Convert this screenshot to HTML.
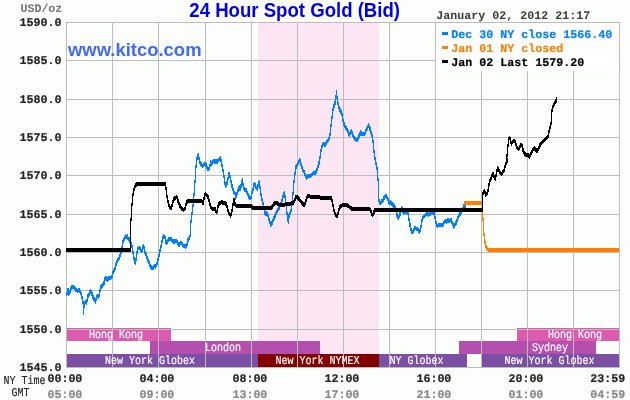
<!DOCTYPE html><html><head><meta charset="utf-8"><title>24 Hour Spot Gold (Bid)</title><style>
html,body{margin:0;padding:0;background:#fcfefc}
#c{position:relative;width:630px;height:400px;overflow:hidden;background:#fcfefc;font-family:"Liberation Mono","DejaVu Sans Mono",monospace}
.t{position:absolute;white-space:pre;line-height:1;transform-origin:0 0}
.m{font-size:11.665px;font-weight:bold;color:#222;text-rendering:geometricPrecision;-webkit-text-stroke:0.2px}
.r{font-size:11.665px;font-weight:bold;text-rendering:geometricPrecision}
.s{font-size:10px;transform:scaleY(1.2);text-rendering:geometricPrecision;-webkit-text-stroke:0.15px}
.a{font-family:"Liberation Sans",sans-serif;font-weight:bold}
.k{position:absolute;width:6px;height:3px;left:442px}
</style></head><body><div id="c">
<svg width="630" height="400" viewBox="0 0 630 400" style="position:absolute;left:0;top:0">
<rect x="258" y="22" width="121" height="345" fill="#fce6f4"/>
<rect x="67" y="328" width="104" height="13" fill="#dd5bae"/>
<rect x="517" y="328" width="102" height="13" fill="#dd5bae"/>
<rect x="150" y="341" width="170" height="13" fill="#b44fae"/>
<rect x="459" y="341" width="137" height="13" fill="#b44fae"/>
<rect x="67" y="354" width="191" height="13" fill="#7b4fa3"/>
<rect x="258" y="354" width="121" height="13" fill="#840000"/>
<rect x="379" y="354" width="88" height="13" fill="#7b4fa3"/>
<rect x="481" y="354" width="138" height="13" fill="#7b4fa3"/>
<rect x="66" y="22" width="1" height="346" fill="#bcbcbc"/>
<rect x="112" y="22" width="1" height="346" fill="#bcbcbc"/>
<rect x="158" y="22" width="1" height="346" fill="#bcbcbc"/>
<rect x="205" y="22" width="1" height="346" fill="#bcbcbc"/>
<rect x="251" y="22" width="1" height="346" fill="#bcbcbc"/>
<rect x="297" y="22" width="1" height="346" fill="#bcbcbc"/>
<rect x="343" y="22" width="1" height="346" fill="#bcbcbc"/>
<rect x="389" y="22" width="1" height="346" fill="#bcbcbc"/>
<rect x="435" y="22" width="1" height="346" fill="#bcbcbc"/>
<rect x="481" y="22" width="1" height="346" fill="#bcbcbc"/>
<rect x="527" y="22" width="1" height="346" fill="#bcbcbc"/>
<rect x="573" y="22" width="1" height="346" fill="#bcbcbc"/>
<rect x="619" y="22" width="1" height="346" fill="#bcbcbc"/>
<rect x="66" y="22" width="554" height="1" fill="#bcbcbc"/>
<rect x="66" y="60" width="554" height="1" fill="#bcbcbc"/>
<rect x="66" y="99" width="554" height="1" fill="#bcbcbc"/>
<rect x="66" y="137" width="554" height="1" fill="#bcbcbc"/>
<rect x="66" y="175" width="554" height="1" fill="#bcbcbc"/>
<rect x="66" y="214" width="554" height="1" fill="#bcbcbc"/>
<rect x="66" y="252" width="554" height="1" fill="#bcbcbc"/>
<rect x="66" y="290" width="554" height="1" fill="#bcbcbc"/>
<rect x="66" y="329" width="554" height="1" fill="#bcbcbc"/>
<rect x="66" y="367" width="554" height="1" fill="#bcbcbc"/>
<rect x="436" y="23" width="183" height="48" fill="#ffffff"/>
<path d="M66.6,293.3 L67.4,290.8 L68.0,288.4 L68.6,292.1 L69.5,291.7 L70.8,287.4 L72.1,285.5 L73.3,285.6 L74.6,286.1 L75.9,288.3 L77.1,289.3 L78.4,288.6 L79.3,288.7 L80.3,290.4 L81.3,293.1 L82.2,296.9 L83.1,301.6 L83.6,306.7 L83.7,311.5 L84.1,303.7 L85.1,300.7 L86.4,301.4 L87.3,297.8 L88.2,293.7 L89.2,292.6 L90.5,289.3 L91.7,291.7 L93.0,295.5 L94.3,298.1 L95.6,300.1 L96.6,295.6 L97.5,294.4 L98.7,295.1 L99.6,290.8 L100.6,286.1 L101.9,284.7 L103.2,282.9 L104.2,281.1 L105.1,277.1 L106.3,276.2 L107.6,278.7 L108.9,276.4 L110.2,276.1 L111.4,275.9 L112.3,274.7 L113.1,270.5 L113.6,269.1 L114.4,268.5 L115.3,266.3 L116.6,260.7 L117.6,258.8 L118.3,257.6 L119.1,256.8 L120.4,252.9 L121.7,248.9 L122.7,240.4 L124.0,237.9 L124.8,237.3 L125.5,234.3 L126.3,235.8 L127.1,234.7 L128.0,237.0 L128.8,237.1 L129.6,238.7 L130.3,240.9 L131.6,242.9 L132.6,248.3 L133.5,254.0 L134.4,259.1 L135.4,261.4 L136.3,256.5 L137.0,250.8 L137.9,247.0 L139.2,246.0 L140.5,247.9 L141.7,249.8 L142.8,246.0 L143.7,244.2 L144.5,249.3 L145.6,252.1 L146.8,255.6 L148.1,259.1 L149.4,262.2 L150.6,265.7 L151.4,265.7 L152.2,266.7 L153.0,266.8 L153.8,265.1 L154.7,264.5 L155.5,265.3 L156.7,262.9 L158.0,257.9 L159.3,252.7 L160.4,247.2 L161.4,243.2 L162.4,238.7 L163.3,234.7 L164.3,235.2 L165.2,236.6 L166.1,241.7 L167.1,240.4 L168.4,238.1 L169.2,237.4 L169.9,237.7 L171.2,237.5 L172.5,239.8 L173.3,239.7 L174.1,240.4 L175.4,239.4 L176.7,239.1 L177.9,241.6 L179.2,243.8 L180.5,241.3 L181.7,241.5 L183.0,244.1 L184.3,244.8 L185.1,244.2 L185.9,245.4 L187.2,242.8 L188.1,238.1 L189.0,237.1 L190.0,234.7 L190.5,223.9 L191.7,214.1 L192.8,206.5 L193.7,197.3 L194.5,186.2 L195.2,177.4 L195.9,166.4 L196.5,157.8 L197.5,155.6 L198.4,153.7 L199.0,157.1 L200.1,161.7 L201.3,162.9 L202.1,164.4 L202.9,164.2 L204.1,162.7 L205.1,161.9 L206.4,164.1 L207.7,167.9 L208.7,167.9 L209.8,164.5 L210.7,160.6 L211.7,162.5 L212.8,160.4 L213.8,159.0 L214.9,160.6 L215.9,159.4 L217.1,161.0 L218.1,158.7 L219.4,157.7 L220.4,156.2 L221.3,160.4 L222.2,164.5 L223.2,169.8 L224.1,175.2 L224.7,180.3 L225.7,184.4 L227.0,181.6 L228.0,177.4 L228.9,172.3 L229.8,174.3 L230.8,179.3 L231.8,183.7 L232.7,186.9 L234.0,190.7 L235.2,192.0 L235.7,196.1 L237.0,192.5 L238.3,187.9 L239.1,185.7 L240.2,188.1 L241.2,183.7 L242.3,178.9 L243.3,184.5 L244.6,188.7 L245.9,187.9 L247.1,191.3 L248.4,194.3 L249.7,196.8 L250.7,197.0 L251.8,192.1 L252.9,188.4 L253.9,183.4 L254.8,182.8 L256.0,185.8 L257.3,187.1 L258.2,183.3 L259.2,180.2 L260.2,187.5 L261.5,196.0 L262.8,200.6 L263.7,205.2 L264.5,210.3 L265.6,212.9 L266.8,211.6 L268.1,214.5 L269.4,219.2 L270.6,223.3 L271.9,221.8 L273.2,218.3 L274.4,215.6 L275.7,213.2 L277.0,209.9 L278.3,207.8 L279.5,205.5 L280.8,202.4 L282.1,198.9 L283.3,194.3 L284.3,191.0 L285.2,195.5 L285.9,201.8 L286.8,210.7 L287.5,216.3 L288.2,220.3 L289.0,214.5 L290.3,211.6 L291.6,206.9 L292.6,198.0 L293.5,185.3 L294.1,179.4 L294.8,173.9 L295.3,170.4 L296.1,164.9 L297.4,163.7 L298.6,160.9 L299.9,158.3 L300.8,161.9 L301.7,165.3 L302.7,168.5 L304.0,170.1 L305.2,173.3 L306.5,176.1 L307.8,174.8 L308.6,174.5 L309.3,174.2 L310.1,174.5 L311.0,173.9 L311.8,173.4 L312.6,172.0 L313.9,171.9 L315.1,171.7 L316.4,170.0 L317.7,166.6 L318.7,162.8 L319.6,159.2 L320.5,151.6 L321.2,147.9 L322.4,143.5 L323.7,142.1 L324.9,144.1 L326.2,141.8 L327.5,139.5 L328.5,138.3 L329.6,135.3 L330.4,130.8 L330.9,128.9 L330.6,126.7 L331.6,120.0 L332.5,110.5 L333.2,107.3 L334.4,103.2 L335.4,100.5 L336.0,95.6 L336.5,90.6 L337.0,96.2 L337.7,100.8 L338.6,105.5 L339.8,108.0 L341.1,110.7 L342.1,113.3 L343.0,119.3 L344.0,122.5 L345.3,125.9 L346.1,126.2 L346.8,127.5 L348.1,130.5 L349.4,133.3 L350.4,130.7 L351.4,129.4 L352.5,132.3 L353.2,134.8 L354.0,135.8 L354.8,137.7 L355.6,137.2 L356.3,138.4 L357.3,138.7 L358.6,135.5 L359.8,132.9 L360.8,130.7 L362.1,132.7 L363.3,132.8 L364.6,133.0 L365.9,129.2 L367.1,126.9 L368.4,123.9 L369.4,126.0 L370.4,128.3 L371.3,132.0 L371.7,132.6 L373.1,140.3 L374.2,152.2 L375.4,159.4 L376.7,164.8 L377.7,173.1 L378.5,186.2 L378.6,196.5 L379.5,201.0 L380.8,201.6 L382.1,199.3 L382.9,199.0 L383.7,196.8 L384.4,196.7 L385.2,193.9 L386.5,195.1 L387.5,196.5 L388.8,200.6 L389.6,201.8 L390.3,200.7 L391.1,201.8 L391.8,202.1 L392.6,203.0 L393.5,204.4 L394.8,205.0 L396.0,208.6 L397.3,214.8 L398.6,216.4 L399.8,213.3 L400.9,209.5 L401.5,206.5 L402.4,207.9 L403.7,211.6 L404.6,210.4 L405.6,210.7 L406.6,210.4 L407.5,209.8 L408.5,214.7 L409.4,220.6 L410.4,225.3 L411.5,230.0 L412.5,230.6 L413.4,228.9 L414.4,227.0 L415.2,226.4 L416.0,227.2 L417.2,227.2 L418.5,228.7 L419.5,230.8 L420.5,227.6 L421.4,222.4 L422.3,217.4 L423.3,215.5 L424.6,214.8 L425.9,212.9 L426.9,211.3 L427.8,212.8 L428.8,213.4 L429.7,212.2 L430.6,212.3 L431.6,211.6 L432.6,211.3 L433.5,210.5 L434.6,213.9 L435.5,218.6 L436.5,223.4 L437.8,224.5 L438.8,223.3 L439.7,223.8 L440.6,223.6 L441.6,223.8 L442.6,223.4 L443.5,222.2 L444.4,220.7 L445.4,219.3 L446.4,220.5 L447.3,219.0 L448.2,218.8 L449.2,219.6 L450.1,218.9 L451.1,218.7 L452.4,221.5 L453.7,225.1 L454.9,223.0 L456.2,221.3 L457.5,217.3 L458.7,214.9 L460.0,212.4 L461.3,210.5 L462.5,208.2 L463.8,204.6 L465.1,204.4 L466.3,202.6" fill="none" stroke="#0080ff" stroke-width="1" stroke-linejoin="round" shape-rendering="crispEdges"/>
<path d="M66.6,294.3 L67.4,291.8 L68.0,289.4 L68.6,293.1 L69.5,292.7 L70.8,288.4 L72.1,286.5 L73.3,286.6 L74.6,287.1 L75.9,289.3 L77.1,290.3 L78.4,289.6 L79.3,289.7 L80.3,291.4 L81.3,294.1 L82.2,297.9 L83.1,302.6 L83.6,307.7 L83.7,312.5 L84.1,304.7 L85.1,301.7 L86.4,302.4 L87.3,298.8 L88.2,294.7 L89.2,293.6 L90.5,290.3 L91.7,292.7 L93.0,296.5 L94.3,299.1 L95.6,301.1 L96.6,296.6 L97.5,295.4 L98.7,296.1 L99.6,291.8 L100.6,287.1 L101.9,285.7 L103.2,283.9 L104.2,282.1 L105.1,278.1 L106.3,277.2 L107.6,279.7 L108.9,277.4 L110.2,277.1 L111.4,276.9 L112.3,275.7 L113.1,271.5 L113.6,270.1 L114.4,269.5 L115.3,267.3 L116.6,261.7 L117.6,259.8 L118.3,258.6 L119.1,257.8 L120.4,253.9 L121.7,249.9 L122.7,241.4 L124.0,238.9 L124.8,238.3 L125.5,235.3 L126.3,236.8 L127.1,235.7 L128.0,238.0 L128.8,238.1 L129.6,239.7 L130.3,241.9 L131.6,243.9 L132.6,249.3 L133.5,255.0 L134.4,260.1 L135.4,262.4 L136.3,257.5 L137.0,251.8 L137.9,248.0 L139.2,247.0 L140.5,248.9 L141.7,250.8 L142.8,247.0 L143.7,245.2 L144.5,250.3 L145.6,253.1 L146.8,256.6 L148.1,260.1 L149.4,263.2 L150.6,266.7 L151.4,266.7 L152.2,267.7 L153.0,267.8 L153.8,266.1 L154.7,265.5 L155.5,266.3 L156.7,263.9 L158.0,258.9 L159.3,253.7 L160.4,248.2 L161.4,244.2 L162.4,239.7 L163.3,235.7 L164.3,236.2 L165.2,237.6 L166.1,242.7 L167.1,241.4 L168.4,239.1 L169.2,238.4 L169.9,238.7 L171.2,238.5 L172.5,240.8 L173.3,240.7 L174.1,241.4 L175.4,240.4 L176.7,240.1 L177.9,242.6 L179.2,244.8 L180.5,242.3 L181.7,242.5 L183.0,245.1 L184.3,245.8 L185.1,245.2 L185.9,246.4 L187.2,243.8 L188.1,239.1 L189.0,238.1 L190.0,235.7 L190.5,224.9 L191.7,215.1 L192.8,207.5 L193.7,198.3 L194.5,187.2 L195.2,178.4 L195.9,167.4 L196.5,158.8 L197.5,156.6 L198.4,154.7 L199.0,158.1 L200.1,162.7 L201.3,163.9 L202.1,165.4 L202.9,165.2 L204.1,163.7 L205.1,162.9 L206.4,165.1 L207.7,168.9 L208.7,168.9 L209.8,165.5 L210.7,161.6 L211.7,163.5 L212.8,161.4 L213.8,160.0 L214.9,161.6 L215.9,160.4 L217.1,162.0 L218.1,159.7 L219.4,158.7 L220.4,157.2 L221.3,161.4 L222.2,165.5 L223.2,170.8 L224.1,176.2 L224.7,181.3 L225.7,185.4 L227.0,182.6 L228.0,178.4 L228.9,173.3 L229.8,175.3 L230.8,180.3 L231.8,184.7 L232.7,187.9 L234.0,191.7 L235.2,193.0 L235.7,197.1 L237.0,193.5 L238.3,188.9 L239.1,186.7 L240.2,189.1 L241.2,184.7 L242.3,179.9 L243.3,185.5 L244.6,189.7 L245.9,188.9 L247.1,192.3 L248.4,195.3 L249.7,197.8 L250.7,198.0 L251.8,193.1 L252.9,189.4 L253.9,184.4 L254.8,183.8 L256.0,186.8 L257.3,188.1 L258.2,184.3 L259.2,181.2 L260.2,188.5 L261.5,197.0 L262.8,201.6 L263.7,206.2 L264.5,211.3 L265.6,213.9 L266.8,212.6 L268.1,215.5 L269.4,220.2 L270.6,224.3 L271.9,222.8 L273.2,219.3 L274.4,216.6 L275.7,214.2 L277.0,210.9 L278.3,208.8 L279.5,206.5 L280.8,203.4 L282.1,199.9 L283.3,195.3 L284.3,192.0 L285.2,196.5 L285.9,202.8 L286.8,211.7 L287.5,217.3 L288.2,221.3 L289.0,215.5 L290.3,212.6 L291.6,207.9 L292.6,199.0 L293.5,186.3 L294.1,180.4 L294.8,174.9 L295.3,171.4 L296.1,165.9 L297.4,164.7 L298.6,161.9 L299.9,159.3 L300.8,162.9 L301.7,166.3 L302.7,169.5 L304.0,171.1 L305.2,174.3 L306.5,177.1 L307.8,175.8 L308.6,175.5 L309.3,175.2 L310.1,175.5 L311.0,174.9 L311.8,174.4 L312.6,173.0 L313.9,172.9 L315.1,172.7 L316.4,171.0 L317.7,167.6 L318.7,163.8 L319.6,160.2 L320.5,152.6 L321.2,148.9 L322.4,144.5 L323.7,143.1 L324.9,145.1 L326.2,142.8 L327.5,140.5 L328.5,139.3 L329.6,136.3 L330.4,131.8 L330.9,129.9 L330.6,127.7 L331.6,121.0 L332.5,111.5 L333.2,108.3 L334.4,104.2 L335.4,101.5 L336.0,96.6 L336.5,91.6 L337.0,97.2 L337.7,101.8 L338.6,106.5 L339.8,109.0 L341.1,111.7 L342.1,114.3 L343.0,120.3 L344.0,123.5 L345.3,126.9 L346.1,127.2 L346.8,128.5 L348.1,131.5 L349.4,134.3 L350.4,131.7 L351.4,130.4 L352.5,133.3 L353.2,135.8 L354.0,136.8 L354.8,138.7 L355.6,138.2 L356.3,139.4 L357.3,139.7 L358.6,136.5 L359.8,133.9 L360.8,131.7 L362.1,133.7 L363.3,133.8 L364.6,134.0 L365.9,130.2 L367.1,127.9 L368.4,124.9 L369.4,127.0 L370.4,129.3 L371.3,133.0 L371.7,133.6 L373.1,141.3 L374.2,153.2 L375.4,160.4 L376.7,165.8 L377.7,174.1 L378.5,187.2 L378.6,197.5 L379.5,202.0 L380.8,202.6 L382.1,200.3 L382.9,200.0 L383.7,197.8 L384.4,197.7 L385.2,194.9 L386.5,196.1 L387.5,197.5 L388.8,201.6 L389.6,202.8 L390.3,201.7 L391.1,202.8 L391.8,203.1 L392.6,204.0 L393.5,205.4 L394.8,206.0 L396.0,209.6 L397.3,215.8 L398.6,217.4 L399.8,214.3 L400.9,210.5 L401.5,207.5 L402.4,208.9 L403.7,212.6 L404.6,211.4 L405.6,211.7 L406.6,211.4 L407.5,210.8 L408.5,215.7 L409.4,221.6 L410.4,226.3 L411.5,231.0 L412.5,231.6 L413.4,229.9 L414.4,228.0 L415.2,227.4 L416.0,228.2 L417.2,228.2 L418.5,229.7 L419.5,231.8 L420.5,228.6 L421.4,223.4 L422.3,218.4 L423.3,216.5 L424.6,215.8 L425.9,213.9 L426.9,212.3 L427.8,213.8 L428.8,214.4 L429.7,213.2 L430.6,213.3 L431.6,212.6 L432.6,212.3 L433.5,211.5 L434.6,214.9 L435.5,219.6 L436.5,224.4 L437.8,225.5 L438.8,224.3 L439.7,224.8 L440.6,224.6 L441.6,224.8 L442.6,224.4 L443.5,223.2 L444.4,221.7 L445.4,220.3 L446.4,221.5 L447.3,220.0 L448.2,219.8 L449.2,220.6 L450.1,219.9 L451.1,219.7 L452.4,222.5 L453.7,226.1 L454.9,224.0 L456.2,222.3 L457.5,218.3 L458.7,215.9 L460.0,213.4 L461.3,211.5 L462.5,209.2 L463.8,205.6 L465.1,205.4 L466.3,203.6" fill="none" stroke="#0080ff" stroke-width="1" stroke-linejoin="round" shape-rendering="crispEdges"/>
<path d="M66.6,295.3 L67.4,292.8 L68.0,290.4 L68.6,294.1 L69.5,293.7 L70.8,289.4 L72.1,287.5 L73.3,287.6 L74.6,288.1 L75.9,290.3 L77.1,291.3 L78.4,290.6 L79.3,290.7 L80.3,292.4 L81.3,295.1 L82.2,298.9 L83.1,303.6 L83.6,308.7 L83.7,313.5 L84.1,305.7 L85.1,302.7 L86.4,303.4 L87.3,299.8 L88.2,295.7 L89.2,294.6 L90.5,291.3 L91.7,293.7 L93.0,297.5 L94.3,300.1 L95.6,302.1 L96.6,297.6 L97.5,296.4 L98.7,297.1 L99.6,292.8 L100.6,288.1 L101.9,286.7 L103.2,284.9 L104.2,283.1 L105.1,279.1 L106.3,278.2 L107.6,280.7 L108.9,278.4 L110.2,278.1 L111.4,277.9 L112.3,276.7 L113.1,272.5 L113.6,271.1 L114.4,270.5 L115.3,268.3 L116.6,262.7 L117.6,260.8 L118.3,259.6 L119.1,258.8 L120.4,254.9 L121.7,250.9 L122.7,242.4 L124.0,239.9 L124.8,239.3 L125.5,236.3 L126.3,237.8 L127.1,236.7 L128.0,239.0 L128.8,239.1 L129.6,240.7 L130.3,242.9 L131.6,244.9 L132.6,250.3 L133.5,256.0 L134.4,261.1 L135.4,263.4 L136.3,258.5 L137.0,252.8 L137.9,249.0 L139.2,248.0 L140.5,249.9 L141.7,251.8 L142.8,248.0 L143.7,246.2 L144.5,251.3 L145.6,254.1 L146.8,257.6 L148.1,261.1 L149.4,264.2 L150.6,267.7 L151.4,267.7 L152.2,268.7 L153.0,268.8 L153.8,267.1 L154.7,266.5 L155.5,267.3 L156.7,264.9 L158.0,259.9 L159.3,254.7 L160.4,249.2 L161.4,245.2 L162.4,240.7 L163.3,236.7 L164.3,237.2 L165.2,238.6 L166.1,243.7 L167.1,242.4 L168.4,240.1 L169.2,239.4 L169.9,239.7 L171.2,239.5 L172.5,241.8 L173.3,241.7 L174.1,242.4 L175.4,241.4 L176.7,241.1 L177.9,243.6 L179.2,245.8 L180.5,243.3 L181.7,243.5 L183.0,246.1 L184.3,246.8 L185.1,246.2 L185.9,247.4 L187.2,244.8 L188.1,240.1 L189.0,239.1 L190.0,236.7 L190.5,225.9 L191.7,216.1 L192.8,208.5 L193.7,199.3 L194.5,188.2 L195.2,179.4 L195.9,168.4 L196.5,159.8 L197.5,157.6 L198.4,155.7 L199.0,159.1 L200.1,163.7 L201.3,164.9 L202.1,166.4 L202.9,166.2 L204.1,164.7 L205.1,163.9 L206.4,166.1 L207.7,169.9 L208.7,169.9 L209.8,166.5 L210.7,162.6 L211.7,164.5 L212.8,162.4 L213.8,161.0 L214.9,162.6 L215.9,161.4 L217.1,163.0 L218.1,160.7 L219.4,159.7 L220.4,158.2 L221.3,162.4 L222.2,166.5 L223.2,171.8 L224.1,177.2 L224.7,182.3 L225.7,186.4 L227.0,183.6 L228.0,179.4 L228.9,174.3 L229.8,176.3 L230.8,181.3 L231.8,185.7 L232.7,188.9 L234.0,192.7 L235.2,194.0 L235.7,198.1 L237.0,194.5 L238.3,189.9 L239.1,187.7 L240.2,190.1 L241.2,185.7 L242.3,180.9 L243.3,186.5 L244.6,190.7 L245.9,189.9 L247.1,193.3 L248.4,196.3 L249.7,198.8 L250.7,199.0 L251.8,194.1 L252.9,190.4 L253.9,185.4 L254.8,184.8 L256.0,187.8 L257.3,189.1 L258.2,185.3 L259.2,182.2 L260.2,189.5 L261.5,198.0 L262.8,202.6 L263.7,207.2 L264.5,212.3 L265.6,214.9 L266.8,213.6 L268.1,216.5 L269.4,221.2 L270.6,225.3 L271.9,223.8 L273.2,220.3 L274.4,217.6 L275.7,215.2 L277.0,211.9 L278.3,209.8 L279.5,207.5 L280.8,204.4 L282.1,200.9 L283.3,196.3 L284.3,193.0 L285.2,197.5 L285.9,203.8 L286.8,212.7 L287.5,218.3 L288.2,222.3 L289.0,216.5 L290.3,213.6 L291.6,208.9 L292.6,200.0 L293.5,187.3 L294.1,181.4 L294.8,175.9 L295.3,172.4 L296.1,166.9 L297.4,165.7 L298.6,162.9 L299.9,160.3 L300.8,163.9 L301.7,167.3 L302.7,170.5 L304.0,172.1 L305.2,175.3 L306.5,178.1 L307.8,176.8 L308.6,176.5 L309.3,176.2 L310.1,176.5 L311.0,175.9 L311.8,175.4 L312.6,174.0 L313.9,173.9 L315.1,173.7 L316.4,172.0 L317.7,168.6 L318.7,164.8 L319.6,161.2 L320.5,153.6 L321.2,149.9 L322.4,145.5 L323.7,144.1 L324.9,146.1 L326.2,143.8 L327.5,141.5 L328.5,140.3 L329.6,137.3 L330.4,132.8 L330.9,130.9 L330.6,128.7 L331.6,122.0 L332.5,112.5 L333.2,109.3 L334.4,105.2 L335.4,102.5 L336.0,97.6 L336.5,92.6 L337.0,98.2 L337.7,102.8 L338.6,107.5 L339.8,110.0 L341.1,112.7 L342.1,115.3 L343.0,121.3 L344.0,124.5 L345.3,127.9 L346.1,128.2 L346.8,129.5 L348.1,132.5 L349.4,135.3 L350.4,132.7 L351.4,131.4 L352.5,134.3 L353.2,136.8 L354.0,137.8 L354.8,139.7 L355.6,139.2 L356.3,140.4 L357.3,140.7 L358.6,137.5 L359.8,134.9 L360.8,132.7 L362.1,134.7 L363.3,134.8 L364.6,135.0 L365.9,131.2 L367.1,128.9 L368.4,125.9 L369.4,128.0 L370.4,130.3 L371.3,134.0 L371.7,134.6 L373.1,142.3 L374.2,154.2 L375.4,161.4 L376.7,166.8 L377.7,175.1 L378.5,188.2 L378.6,198.5 L379.5,203.0 L380.8,203.6 L382.1,201.3 L382.9,201.0 L383.7,198.8 L384.4,198.7 L385.2,195.9 L386.5,197.1 L387.5,198.5 L388.8,202.6 L389.6,203.8 L390.3,202.7 L391.1,203.8 L391.8,204.1 L392.6,205.0 L393.5,206.4 L394.8,207.0 L396.0,210.6 L397.3,216.8 L398.6,218.4 L399.8,215.3 L400.9,211.5 L401.5,208.5 L402.4,209.9 L403.7,213.6 L404.6,212.4 L405.6,212.7 L406.6,212.4 L407.5,211.8 L408.5,216.7 L409.4,222.6 L410.4,227.3 L411.5,232.0 L412.5,232.6 L413.4,230.9 L414.4,229.0 L415.2,228.4 L416.0,229.2 L417.2,229.2 L418.5,230.7 L419.5,232.8 L420.5,229.6 L421.4,224.4 L422.3,219.4 L423.3,217.5 L424.6,216.8 L425.9,214.9 L426.9,213.3 L427.8,214.8 L428.8,215.4 L429.7,214.2 L430.6,214.3 L431.6,213.6 L432.6,213.3 L433.5,212.5 L434.6,215.9 L435.5,220.6 L436.5,225.4 L437.8,226.5 L438.8,225.3 L439.7,225.8 L440.6,225.6 L441.6,225.8 L442.6,225.4 L443.5,224.2 L444.4,222.7 L445.4,221.3 L446.4,222.5 L447.3,221.0 L448.2,220.8 L449.2,221.6 L450.1,220.9 L451.1,220.7 L452.4,223.5 L453.7,227.1 L454.9,225.0 L456.2,223.3 L457.5,219.3 L458.7,216.9 L460.0,214.4 L461.3,212.5 L462.5,210.2 L463.8,206.6 L465.1,206.4 L466.3,204.6" fill="none" stroke="#0080ff" stroke-width="1" stroke-linejoin="round" shape-rendering="crispEdges"/>
<path d="M66.6,296.3 L67.4,293.8 L68.0,291.4 L68.6,295.1 L69.5,294.7 L70.8,290.4 L72.1,288.5 L73.3,288.6 L74.6,289.1 L75.9,291.3 L77.1,292.3 L78.4,291.6 L79.3,291.7 L80.3,293.4 L81.3,296.1 L82.2,299.9 L83.1,304.6 L83.6,309.7 L83.7,314.5 L84.1,306.7 L85.1,303.7 L86.4,304.4 L87.3,300.8 L88.2,296.7 L89.2,295.6 L90.5,292.3 L91.7,294.7 L93.0,298.5 L94.3,301.1 L95.6,303.1 L96.6,298.6 L97.5,297.4 L98.7,298.1 L99.6,293.8 L100.6,289.1 L101.9,287.7 L103.2,285.9 L104.2,284.1 L105.1,280.1 L106.3,279.2 L107.6,281.7 L108.9,279.4 L110.2,279.1 L111.4,278.9 L112.3,277.7 L113.1,273.5 L113.6,272.1 L114.4,271.5 L115.3,269.3 L116.6,263.7 L117.6,261.8 L118.3,260.6 L119.1,259.8 L120.4,255.9 L121.7,251.9 L122.7,243.4 L124.0,240.9 L124.8,240.3 L125.5,237.3 L126.3,238.8 L127.1,237.7 L128.0,240.0 L128.8,240.1 L129.6,241.7 L130.3,243.9 L131.6,245.9 L132.6,251.3 L133.5,257.0 L134.4,262.1 L135.4,264.4 L136.3,259.5 L137.0,253.8 L137.9,250.0 L139.2,249.0 L140.5,250.9 L141.7,252.8 L142.8,249.0 L143.7,247.2 L144.5,252.3 L145.6,255.1 L146.8,258.6 L148.1,262.1 L149.4,265.2 L150.6,268.7 L151.4,268.7 L152.2,269.7 L153.0,269.8 L153.8,268.1 L154.7,267.5 L155.5,268.3 L156.7,265.9 L158.0,260.9 L159.3,255.7 L160.4,250.2 L161.4,246.2 L162.4,241.7 L163.3,237.7 L164.3,238.2 L165.2,239.6 L166.1,244.7 L167.1,243.4 L168.4,241.1 L169.2,240.4 L169.9,240.7 L171.2,240.5 L172.5,242.8 L173.3,242.7 L174.1,243.4 L175.4,242.4 L176.7,242.1 L177.9,244.6 L179.2,246.8 L180.5,244.3 L181.7,244.5 L183.0,247.1 L184.3,247.8 L185.1,247.2 L185.9,248.4 L187.2,245.8 L188.1,241.1 L189.0,240.1 L190.0,237.7 L190.5,226.9 L191.7,217.1 L192.8,209.5 L193.7,200.3 L194.5,189.2 L195.2,180.4 L195.9,169.4 L196.5,160.8 L197.5,158.6 L198.4,156.7 L199.0,160.1 L200.1,164.7 L201.3,165.9 L202.1,167.4 L202.9,167.2 L204.1,165.7 L205.1,164.9 L206.4,167.1 L207.7,170.9 L208.7,170.9 L209.8,167.5 L210.7,163.6 L211.7,165.5 L212.8,163.4 L213.8,162.0 L214.9,163.6 L215.9,162.4 L217.1,164.0 L218.1,161.7 L219.4,160.7 L220.4,159.2 L221.3,163.4 L222.2,167.5 L223.2,172.8 L224.1,178.2 L224.7,183.3 L225.7,187.4 L227.0,184.6 L228.0,180.4 L228.9,175.3 L229.8,177.3 L230.8,182.3 L231.8,186.7 L232.7,189.9 L234.0,193.7 L235.2,195.0 L235.7,199.1 L237.0,195.5 L238.3,190.9 L239.1,188.7 L240.2,191.1 L241.2,186.7 L242.3,181.9 L243.3,187.5 L244.6,191.7 L245.9,190.9 L247.1,194.3 L248.4,197.3 L249.7,199.8 L250.7,200.0 L251.8,195.1 L252.9,191.4 L253.9,186.4 L254.8,185.8 L256.0,188.8 L257.3,190.1 L258.2,186.3 L259.2,183.2 L260.2,190.5 L261.5,199.0 L262.8,203.6 L263.7,208.2 L264.5,213.3 L265.6,215.9 L266.8,214.6 L268.1,217.5 L269.4,222.2 L270.6,226.3 L271.9,224.8 L273.2,221.3 L274.4,218.6 L275.7,216.2 L277.0,212.9 L278.3,210.8 L279.5,208.5 L280.8,205.4 L282.1,201.9 L283.3,197.3 L284.3,194.0 L285.2,198.5 L285.9,204.8 L286.8,213.7 L287.5,219.3 L288.2,223.3 L289.0,217.5 L290.3,214.6 L291.6,209.9 L292.6,201.0 L293.5,188.3 L294.1,182.4 L294.8,176.9 L295.3,173.4 L296.1,167.9 L297.4,166.7 L298.6,163.9 L299.9,161.3 L300.8,164.9 L301.7,168.3 L302.7,171.5 L304.0,173.1 L305.2,176.3 L306.5,179.1 L307.8,177.8 L308.6,177.5 L309.3,177.2 L310.1,177.5 L311.0,176.9 L311.8,176.4 L312.6,175.0 L313.9,174.9 L315.1,174.7 L316.4,173.0 L317.7,169.6 L318.7,165.8 L319.6,162.2 L320.5,154.6 L321.2,150.9 L322.4,146.5 L323.7,145.1 L324.9,147.1 L326.2,144.8 L327.5,142.5 L328.5,141.3 L329.6,138.3 L330.4,133.8 L330.9,131.9 L330.6,129.7 L331.6,123.0 L332.5,113.5 L333.2,110.3 L334.4,106.2 L335.4,103.5 L336.0,98.6 L336.5,93.6 L337.0,99.2 L337.7,103.8 L338.6,108.5 L339.8,111.0 L341.1,113.7 L342.1,116.3 L343.0,122.3 L344.0,125.5 L345.3,128.9 L346.1,129.2 L346.8,130.5 L348.1,133.5 L349.4,136.3 L350.4,133.7 L351.4,132.4 L352.5,135.3 L353.2,137.8 L354.0,138.8 L354.8,140.7 L355.6,140.2 L356.3,141.4 L357.3,141.7 L358.6,138.5 L359.8,135.9 L360.8,133.7 L362.1,135.7 L363.3,135.8 L364.6,136.0 L365.9,132.2 L367.1,129.9 L368.4,126.9 L369.4,129.0 L370.4,131.3 L371.3,135.0 L371.7,135.6 L373.1,143.3 L374.2,155.2 L375.4,162.4 L376.7,167.8 L377.7,176.1 L378.5,189.2 L378.6,199.5 L379.5,204.0 L380.8,204.6 L382.1,202.3 L382.9,202.0 L383.7,199.8 L384.4,199.7 L385.2,196.9 L386.5,198.1 L387.5,199.5 L388.8,203.6 L389.6,204.8 L390.3,203.7 L391.1,204.8 L391.8,205.1 L392.6,206.0 L393.5,207.4 L394.8,208.0 L396.0,211.6 L397.3,217.8 L398.6,219.4 L399.8,216.3 L400.9,212.5 L401.5,209.5 L402.4,210.9 L403.7,214.6 L404.6,213.4 L405.6,213.7 L406.6,213.4 L407.5,212.8 L408.5,217.7 L409.4,223.6 L410.4,228.3 L411.5,233.0 L412.5,233.6 L413.4,231.9 L414.4,230.0 L415.2,229.4 L416.0,230.2 L417.2,230.2 L418.5,231.7 L419.5,233.8 L420.5,230.6 L421.4,225.4 L422.3,220.4 L423.3,218.5 L424.6,217.8 L425.9,215.9 L426.9,214.3 L427.8,215.8 L428.8,216.4 L429.7,215.2 L430.6,215.3 L431.6,214.6 L432.6,214.3 L433.5,213.5 L434.6,216.9 L435.5,221.6 L436.5,226.4 L437.8,227.5 L438.8,226.3 L439.7,226.8 L440.6,226.6 L441.6,226.8 L442.6,226.4 L443.5,225.2 L444.4,223.7 L445.4,222.3 L446.4,223.5 L447.3,222.0 L448.2,221.8 L449.2,222.6 L450.1,221.9 L451.1,221.7 L452.4,224.5 L453.7,228.1 L454.9,226.0 L456.2,224.3 L457.5,220.3 L458.7,217.9 L460.0,215.4 L461.3,213.5 L462.5,211.2 L463.8,207.6 L465.1,207.4 L466.3,205.6" fill="none" stroke="#0080ff" stroke-width="1" stroke-linejoin="round" shape-rendering="crispEdges"/>
<path d="M464,201.5 L482.3,201.5 L482.6,210.5 L483.3,223.5 L483.9,231.4 L484.7,239.4 L485.5,243.3 L486.7,246.5 L488.3,248.5 L619,248.5" fill="none" stroke="#ff8000" stroke-width="1" stroke-linejoin="round" shape-rendering="crispEdges"/>
<path d="M464,202.5 L482.3,202.5 L482.6,211.5 L483.3,224.5 L483.9,232.4 L484.7,240.4 L485.5,244.3 L486.7,247.5 L488.3,249.5 L619,249.5" fill="none" stroke="#ff8000" stroke-width="1" stroke-linejoin="round" shape-rendering="crispEdges"/>
<path d="M464,203.5 L482.3,203.5 L482.6,212.5 L483.3,225.5 L483.9,233.4 L484.7,241.4 L485.5,245.3 L486.7,248.5 L488.3,250.5 L619,250.5" fill="none" stroke="#ff8000" stroke-width="1" stroke-linejoin="round" shape-rendering="crispEdges"/>
<path d="M464,204.5 L482.3,204.5 L482.6,213.5 L483.3,226.5 L483.9,234.4 L484.7,242.4 L485.5,246.3 L486.7,249.5 L488.3,251.5 L619,251.5" fill="none" stroke="#ff8000" stroke-width="1" stroke-linejoin="round" shape-rendering="crispEdges"/>
<path d="M66,248.5 L130.5,248.5 L130.5,224.5 L131.4,213.5 L132,203.5 L133,193.5 L134.6,185.5 L136.9,182.5 L165.5,182.5 L166.3,190.0 L167.4,197.0 L168.6,203.3 L169.9,205.9 L171.4,206.3 L172.3,203.3 L173.3,198.3 L174.6,197.0 L175.9,196.1 L176.8,195.7 L177.8,198.9 L179.0,202.1 L180.3,205.2 L181.8,207.5 L183.5,208.4 L184.8,207.8 L185.8,204.0 L186.9,200.8 L188.2,199.5 L201.7,199.5 L202.5,200.8 L202.9,202.1 L203.8,197.6 L204.7,193.8 L205.5,192.5 L206.7,193.6 L207.9,195.1 L208.9,198.9 L209.9,202.7 L211.0,205.9 L212.3,207.2 L214.0,207.5 L215.2,207.8 L216.3,210.3 L216.9,211.0 L217.5,206.5 L218.7,202.7 L220.3,201.4 L222.0,200.8 L223.5,201.4 L225.4,201.7 L226.7,203.3 L227.9,208.4 L229.2,212.2 L230.7,214.1 L231.7,211.6 L232.6,205.2 L233.4,200.2 L234.0,198.3 L234.4,202.1 L236.3,204.0 L238.9,204.6 L251.0,204.6 L252.2,205.9 L253.5,206.8 L271.3,206.8 L272.5,204.6 L273.8,202.5 L275.1,201.7 L277.0,201.7 L278.9,203.0 L280.8,203.7 L283.3,204.0 L285.2,203.0 L287.1,202.5 L293.5,201.7 L294.8,198.3 L296.0,195.3 L297.3,195.7 L299.2,197.6 L301.1,200.2 L303.0,202.7 L304.3,204.0 L305.7,200.8 L306.6,196.4 L307.9,194.5 L309.5,194.8 L311.4,195.7 L314.0,195.3 L316.5,195.3 L320.3,196.1 L325.4,196.4 L331.1,196.6 L332.0,198.9 L333.0,204.0 L334.3,210.3 L335.6,213.9 L337.1,214.8 L338.1,211.6 L339.1,207.2 L340.6,204.6 L342.5,203.7 L344.4,203.3 L347.0,203.7 L348.9,205.0 L350.8,206.8 L353.3,207.5 L369.8,207.5 L370.9,209.7 L371.7,212.6 L372.6,213.9 L373.7,211.0 L374.9,208.8 L376.8,208.4 L380.0,208.4 L482.3,208.5 L482.2,199.1 L482.7,192.8 L483.7,190.5 L484.6,189.6 L485.5,193.4 L486.8,192.5 L487.8,190.2 L488.8,183.9 L489.7,180.1 L491.0,176.9 L492.2,173.7 L493.1,171.8 L494.1,175.6 L495.1,177.5 L496.0,173.7 L496.9,169.3 L497.9,166.8 L499.0,169.3 L500.2,171.2 L501.5,172.5 L502.8,170.6 L504.0,168.7 L504.9,165.5 L505.8,162.9 L506.8,159.8 L507.5,158.5 L506.5,157.9 L507.4,150.3 L508.2,142.7 L508.8,137.6 L509.7,136.4 L510.6,138.3 L511.3,142.1 L512.6,140.2 L513.9,138.9 L515.1,140.2 L516.0,143.3 L517.3,146.5 L518.6,147.8 L519.8,145.2 L521.1,143.3 L522.0,144.0 L523.0,148.4 L524.3,151.6 L525.6,153.5 L527.1,152.9 L528.3,153.5 L529.6,155.4 L530.6,152.9 L531.9,150.3 L533.2,147.8 L534.4,146.8 L535.7,148.4 L537.0,149.7 L538.3,147.2 L539.5,144.6 L540.8,142.1 L542.7,140.2 L544.6,138.3 L546.5,136.4 L548.2,134.5 L549.0,130.0 L549.9,126.2 L551.0,122.4 L551.6,118.6 L552.0,113.5 L551.8,110.2 L553.0,105.2 L554.6,101.9 L555.8,100.1 L556.9,96.8" fill="none" stroke="#000000" stroke-width="1" stroke-linejoin="round" shape-rendering="crispEdges"/>
<path d="M66,249.5 L130.5,249.5 L130.5,225.5 L131.4,214.5 L132,204.5 L133,194.5 L134.6,186.5 L136.9,183.5 L165.5,183.5 L166.3,191.0 L167.4,198.0 L168.6,204.3 L169.9,206.9 L171.4,207.3 L172.3,204.3 L173.3,199.3 L174.6,198.0 L175.9,197.1 L176.8,196.7 L177.8,199.9 L179.0,203.1 L180.3,206.2 L181.8,208.5 L183.5,209.4 L184.8,208.8 L185.8,205.0 L186.9,201.8 L188.2,200.5 L201.7,200.5 L202.5,201.8 L202.9,203.1 L203.8,198.6 L204.7,194.8 L205.5,193.5 L206.7,194.6 L207.9,196.1 L208.9,199.9 L209.9,203.7 L211.0,206.9 L212.3,208.2 L214.0,208.5 L215.2,208.8 L216.3,211.3 L216.9,212.0 L217.5,207.5 L218.7,203.7 L220.3,202.4 L222.0,201.8 L223.5,202.4 L225.4,202.7 L226.7,204.3 L227.9,209.4 L229.2,213.2 L230.7,215.1 L231.7,212.6 L232.6,206.2 L233.4,201.2 L234.0,199.3 L234.4,203.1 L236.3,205.0 L238.9,205.6 L251.0,205.6 L252.2,206.9 L253.5,207.8 L271.3,207.8 L272.5,205.6 L273.8,203.5 L275.1,202.7 L277.0,202.7 L278.9,204.0 L280.8,204.7 L283.3,205.0 L285.2,204.0 L287.1,203.5 L293.5,202.7 L294.8,199.3 L296.0,196.3 L297.3,196.7 L299.2,198.6 L301.1,201.2 L303.0,203.7 L304.3,205.0 L305.7,201.8 L306.6,197.4 L307.9,195.5 L309.5,195.8 L311.4,196.7 L314.0,196.3 L316.5,196.3 L320.3,197.1 L325.4,197.4 L331.1,197.6 L332.0,199.9 L333.0,205.0 L334.3,211.3 L335.6,214.9 L337.1,215.8 L338.1,212.6 L339.1,208.2 L340.6,205.6 L342.5,204.7 L344.4,204.3 L347.0,204.7 L348.9,206.0 L350.8,207.8 L353.3,208.5 L369.8,208.5 L370.9,210.7 L371.7,213.6 L372.6,214.9 L373.7,212.0 L374.9,209.8 L376.8,209.4 L380.0,209.4 L482.3,209.5 L482.2,200.1 L482.7,193.8 L483.7,191.5 L484.6,190.6 L485.5,194.4 L486.8,193.5 L487.8,191.2 L488.8,184.9 L489.7,181.1 L491.0,177.9 L492.2,174.7 L493.1,172.8 L494.1,176.6 L495.1,178.5 L496.0,174.7 L496.9,170.3 L497.9,167.8 L499.0,170.3 L500.2,172.2 L501.5,173.5 L502.8,171.6 L504.0,169.7 L504.9,166.5 L505.8,163.9 L506.8,160.8 L507.5,159.5 L506.5,158.9 L507.4,151.3 L508.2,143.7 L508.8,138.6 L509.7,137.4 L510.6,139.3 L511.3,143.1 L512.6,141.2 L513.9,139.9 L515.1,141.2 L516.0,144.3 L517.3,147.5 L518.6,148.8 L519.8,146.2 L521.1,144.3 L522.0,145.0 L523.0,149.4 L524.3,152.6 L525.6,154.5 L527.1,153.9 L528.3,154.5 L529.6,156.4 L530.6,153.9 L531.9,151.3 L533.2,148.8 L534.4,147.8 L535.7,149.4 L537.0,150.7 L538.3,148.2 L539.5,145.6 L540.8,143.1 L542.7,141.2 L544.6,139.3 L546.5,137.4 L548.2,135.5 L549.0,131.0 L549.9,127.2 L551.0,123.4 L551.6,119.6 L552.0,114.5 L551.8,111.2 L553.0,106.2 L554.6,102.9 L555.8,101.1 L556.9,97.8" fill="none" stroke="#000000" stroke-width="1" stroke-linejoin="round" shape-rendering="crispEdges"/>
<path d="M66,250.5 L130.5,250.5 L130.5,226.5 L131.4,215.5 L132,205.5 L133,195.5 L134.6,187.5 L136.9,184.5 L165.5,184.5 L166.3,192.0 L167.4,199.0 L168.6,205.3 L169.9,207.9 L171.4,208.3 L172.3,205.3 L173.3,200.3 L174.6,199.0 L175.9,198.1 L176.8,197.7 L177.8,200.9 L179.0,204.1 L180.3,207.2 L181.8,209.5 L183.5,210.4 L184.8,209.8 L185.8,206.0 L186.9,202.8 L188.2,201.5 L201.7,201.5 L202.5,202.8 L202.9,204.1 L203.8,199.6 L204.7,195.8 L205.5,194.5 L206.7,195.6 L207.9,197.1 L208.9,200.9 L209.9,204.7 L211.0,207.9 L212.3,209.2 L214.0,209.5 L215.2,209.8 L216.3,212.3 L216.9,213.0 L217.5,208.5 L218.7,204.7 L220.3,203.4 L222.0,202.8 L223.5,203.4 L225.4,203.7 L226.7,205.3 L227.9,210.4 L229.2,214.2 L230.7,216.1 L231.7,213.6 L232.6,207.2 L233.4,202.2 L234.0,200.3 L234.4,204.1 L236.3,206.0 L238.9,206.6 L251.0,206.6 L252.2,207.9 L253.5,208.8 L271.3,208.8 L272.5,206.6 L273.8,204.5 L275.1,203.7 L277.0,203.7 L278.9,205.0 L280.8,205.7 L283.3,206.0 L285.2,205.0 L287.1,204.5 L293.5,203.7 L294.8,200.3 L296.0,197.3 L297.3,197.7 L299.2,199.6 L301.1,202.2 L303.0,204.7 L304.3,206.0 L305.7,202.8 L306.6,198.4 L307.9,196.5 L309.5,196.8 L311.4,197.7 L314.0,197.3 L316.5,197.3 L320.3,198.1 L325.4,198.4 L331.1,198.6 L332.0,200.9 L333.0,206.0 L334.3,212.3 L335.6,215.9 L337.1,216.8 L338.1,213.6 L339.1,209.2 L340.6,206.6 L342.5,205.7 L344.4,205.3 L347.0,205.7 L348.9,207.0 L350.8,208.8 L353.3,209.5 L369.8,209.5 L370.9,211.7 L371.7,214.6 L372.6,215.9 L373.7,213.0 L374.9,210.8 L376.8,210.4 L380.0,210.4 L482.3,210.5 L482.2,201.1 L482.7,194.8 L483.7,192.5 L484.6,191.6 L485.5,195.4 L486.8,194.5 L487.8,192.2 L488.8,185.9 L489.7,182.1 L491.0,178.9 L492.2,175.7 L493.1,173.8 L494.1,177.6 L495.1,179.5 L496.0,175.7 L496.9,171.3 L497.9,168.8 L499.0,171.3 L500.2,173.2 L501.5,174.5 L502.8,172.6 L504.0,170.7 L504.9,167.5 L505.8,164.9 L506.8,161.8 L507.5,160.5 L506.5,159.9 L507.4,152.3 L508.2,144.7 L508.8,139.6 L509.7,138.4 L510.6,140.3 L511.3,144.1 L512.6,142.2 L513.9,140.9 L515.1,142.2 L516.0,145.3 L517.3,148.5 L518.6,149.8 L519.8,147.2 L521.1,145.3 L522.0,146.0 L523.0,150.4 L524.3,153.6 L525.6,155.5 L527.1,154.9 L528.3,155.5 L529.6,157.4 L530.6,154.9 L531.9,152.3 L533.2,149.8 L534.4,148.8 L535.7,150.4 L537.0,151.7 L538.3,149.2 L539.5,146.6 L540.8,144.1 L542.7,142.2 L544.6,140.3 L546.5,138.4 L548.2,136.5 L549.0,132.0 L549.9,128.2 L551.0,124.4 L551.6,120.6 L552.0,115.5 L551.8,112.2 L553.0,107.2 L554.6,103.9 L555.8,102.1 L556.9,98.8" fill="none" stroke="#000000" stroke-width="1" stroke-linejoin="round" shape-rendering="crispEdges"/>
<path d="M66,251.5 L130.5,251.5 L130.5,227.5 L131.4,216.5 L132,206.5 L133,196.5 L134.6,188.5 L136.9,185.5 L165.5,185.5 L166.3,193.0 L167.4,200.0 L168.6,206.3 L169.9,208.9 L171.4,209.3 L172.3,206.3 L173.3,201.3 L174.6,200.0 L175.9,199.1 L176.8,198.7 L177.8,201.9 L179.0,205.1 L180.3,208.2 L181.8,210.5 L183.5,211.4 L184.8,210.8 L185.8,207.0 L186.9,203.8 L188.2,202.5 L201.7,202.5 L202.5,203.8 L202.9,205.1 L203.8,200.6 L204.7,196.8 L205.5,195.5 L206.7,196.6 L207.9,198.1 L208.9,201.9 L209.9,205.7 L211.0,208.9 L212.3,210.2 L214.0,210.5 L215.2,210.8 L216.3,213.3 L216.9,214.0 L217.5,209.5 L218.7,205.7 L220.3,204.4 L222.0,203.8 L223.5,204.4 L225.4,204.7 L226.7,206.3 L227.9,211.4 L229.2,215.2 L230.7,217.1 L231.7,214.6 L232.6,208.2 L233.4,203.2 L234.0,201.3 L234.4,205.1 L236.3,207.0 L238.9,207.6 L251.0,207.6 L252.2,208.9 L253.5,209.8 L271.3,209.8 L272.5,207.6 L273.8,205.5 L275.1,204.7 L277.0,204.7 L278.9,206.0 L280.8,206.7 L283.3,207.0 L285.2,206.0 L287.1,205.5 L293.5,204.7 L294.8,201.3 L296.0,198.3 L297.3,198.7 L299.2,200.6 L301.1,203.2 L303.0,205.7 L304.3,207.0 L305.7,203.8 L306.6,199.4 L307.9,197.5 L309.5,197.8 L311.4,198.7 L314.0,198.3 L316.5,198.3 L320.3,199.1 L325.4,199.4 L331.1,199.6 L332.0,201.9 L333.0,207.0 L334.3,213.3 L335.6,216.9 L337.1,217.8 L338.1,214.6 L339.1,210.2 L340.6,207.6 L342.5,206.7 L344.4,206.3 L347.0,206.7 L348.9,208.0 L350.8,209.8 L353.3,210.5 L369.8,210.5 L370.9,212.7 L371.7,215.6 L372.6,216.9 L373.7,214.0 L374.9,211.8 L376.8,211.4 L380.0,211.4 L482.3,211.5 L482.2,202.1 L482.7,195.8 L483.7,193.5 L484.6,192.6 L485.5,196.4 L486.8,195.5 L487.8,193.2 L488.8,186.9 L489.7,183.1 L491.0,179.9 L492.2,176.7 L493.1,174.8 L494.1,178.6 L495.1,180.5 L496.0,176.7 L496.9,172.3 L497.9,169.8 L499.0,172.3 L500.2,174.2 L501.5,175.5 L502.8,173.6 L504.0,171.7 L504.9,168.5 L505.8,165.9 L506.8,162.8 L507.5,161.5 L506.5,160.9 L507.4,153.3 L508.2,145.7 L508.8,140.6 L509.7,139.4 L510.6,141.3 L511.3,145.1 L512.6,143.2 L513.9,141.9 L515.1,143.2 L516.0,146.3 L517.3,149.5 L518.6,150.8 L519.8,148.2 L521.1,146.3 L522.0,147.0 L523.0,151.4 L524.3,154.6 L525.6,156.5 L527.1,155.9 L528.3,156.5 L529.6,158.4 L530.6,155.9 L531.9,153.3 L533.2,150.8 L534.4,149.8 L535.7,151.4 L537.0,152.7 L538.3,150.2 L539.5,147.6 L540.8,145.1 L542.7,143.2 L544.6,141.3 L546.5,139.4 L548.2,137.5 L549.0,133.0 L549.9,129.2 L551.0,125.4 L551.6,121.6 L552.0,116.5 L551.8,113.2 L553.0,108.2 L554.6,104.9 L555.8,103.1 L556.9,99.8" fill="none" stroke="#000000" stroke-width="1" stroke-linejoin="round" shape-rendering="crispEdges"/>
</svg>
<div class="t a" style="left:189.3px;top:1.1px;font-size:18.6px;color:#0000f0;transform:scaleY(1.07)">24 Hour Spot Gold (Bid)</div>
<div class="t a" style="left:68px;top:40.5px;font-size:18.46px;color:#4169ff">www.kitco.com</div>
<div class="t r" style="left:20.4px;top:4px;color:#747474">USD/oz</div>
<div class="t r" style="left:436.3px;top:11px;color:#3a3a3a">January 02, 2012 21:17</div>
<div class="t m" style="left:19.5px;top:18px;">1590.0</div>
<div class="t m" style="left:19.5px;top:56px;">1585.0</div>
<div class="t m" style="left:19.5px;top:95px;">1580.0</div>
<div class="t m" style="left:19.5px;top:133px;">1575.0</div>
<div class="t m" style="left:19.5px;top:171px;">1570.0</div>
<div class="t m" style="left:19.5px;top:210px;">1565.0</div>
<div class="t m" style="left:19.5px;top:248px;">1560.0</div>
<div class="t m" style="left:19.5px;top:286px;">1555.0</div>
<div class="t m" style="left:19.5px;top:325px;">1550.0</div>
<div class="t m" style="left:19.5px;top:363px;">1545.0</div>
<div class="t m" style="left:47.4px;top:374px;">00:00</div>
<div class="t m" style="left:47.4px;top:390px;color:#888">05:00</div>
<div class="t m" style="left:139.4px;top:374px;">04:00</div>
<div class="t m" style="left:139.4px;top:390px;color:#888">09:00</div>
<div class="t m" style="left:232.4px;top:374px;">08:00</div>
<div class="t m" style="left:232.4px;top:390px;color:#888">13:00</div>
<div class="t m" style="left:324.4px;top:374px;">12:00</div>
<div class="t m" style="left:324.4px;top:390px;color:#888">17:00</div>
<div class="t m" style="left:416.4px;top:374px;">16:00</div>
<div class="t m" style="left:416.4px;top:390px;color:#888">21:00</div>
<div class="t m" style="left:508.4px;top:374px;">20:00</div>
<div class="t m" style="left:508.4px;top:390px;color:#888">01:00</div>
<div class="t m" style="left:590.3px;top:374px;">23:59</div>
<div class="t m" style="left:590.3px;top:390px;color:#888">04:59</div>
<div class="t s" style="left:3.5px;top:377px;color:#222">NY Time</div>
<div class="t s" style="left:11.5px;top:389px;color:#222">GMT</div>
<div class="t m" style="left:451.3px;top:30px;color:#0080ff">Dec 30 NY close 1566.40</div>
<div class="t m" style="left:451.3px;top:44px;color:#ff8000">Jan 01 NY closed</div>
<div class="t m" style="left:451.3px;top:58px;color:#000">Jan 02 Last 1579.20</div>
<div class="k" style="top:32px;background:#0080ff"></div>
<div class="k" style="top:46px;background:#ff8000"></div>
<div class="k" style="top:60px;background:#000"></div>
<div class="t s" style="left:89px;top:331px;color:#fff">Hong Kong</div>
<div class="t s" style="left:205px;top:344px;color:#fff">London</div>
<div class="t s" style="left:105px;top:357px;color:#fff">New York Globex</div>
<div class="t s" style="left:275.6px;top:357px;color:#fff">New York NYMEX</div>
<div class="t s" style="left:389.5px;top:357px;color:#fff">NY Globex</div>
<div class="t s" style="left:548px;top:331px;color:#fff">Hong Kong</div>
<div class="t s" style="left:532px;top:344px;color:#fff">Sydney</div>
<div class="t s" style="left:504.4px;top:357px;color:#fff">New York Globex</div>
</div></body></html>
